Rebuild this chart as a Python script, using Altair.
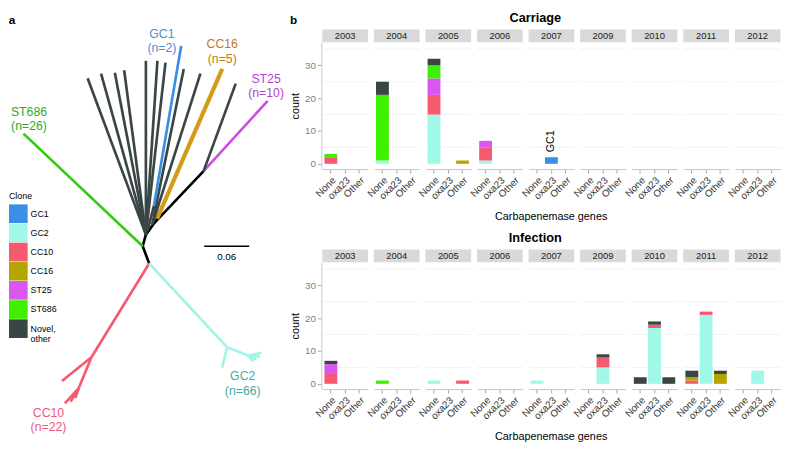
import altair as alt
import pandas as pd

# ---------------- data ----------------
clones = ["GC1", "GC2", "CC10", "CC16", "ST25", "ST686", "Novel, other"]
clone_colors = ["#3a8ee6", "#a0f8e8", "#f55a70", "#b5a300", "#d957f0", "#3ef000", "#3a4646"]
years = ["2003", "2004", "2005", "2006", "2007", "2009", "2010", "2011", "2012"]
genes = ["None", "oxa23", "Other"]

carriage_year = ["2003", "2003", "2004", "2004", "2004", "2005", "2005", "2005", "2005", "2005", "2005",
                 "2006", "2006", "2006", "2007"]
carriage_gene = ["None", "None", "None", "None", "None", "None", "None", "None", "None", "None", "Other",
                 "None", "None", "None", "oxa23"]
carriage_clone = ["CC10", "ST686", "GC2", "ST686", "Novel, other", "GC2", "CC10", "ST25", "ST686",
                  "Novel, other", "CC16", "GC2", "CC10", "ST25", "GC1"]
carriage_count = [2, 1, 1, 20, 4, 15, 6, 5, 4, 2, 1, 1, 4, 2, 2]

infection_year = ["2003", "2003", "2003", "2004", "2005", "2005", "2007", "2009", "2009", "2009",
                  "2010", "2010", "2010", "2010", "2010", "2011", "2011", "2011", "2011", "2011",
                  "2011", "2011", "2012"]
infection_gene = ["None", "None", "None", "None", "None", "Other", "None", "oxa23", "oxa23", "oxa23",
                  "None", "oxa23", "oxa23", "oxa23", "Other", "None", "None", "None", "oxa23", "oxa23",
                  "Other", "Other", "oxa23"]
infection_clone = ["CC10", "ST25", "Novel, other", "ST686", "GC2", "CC10", "GC2", "GC2", "CC10",
                   "Novel, other", "Novel, other", "GC2", "CC10", "Novel, other", "Novel, other",
                   "CC10", "CC16", "Novel, other", "GC2", "CC10", "CC16", "Novel, other", "GC2"]
infection_count = [3, 3, 1, 1, 1, 1, 1, 5, 3, 1, 2, 17, 1, 1, 2, 1, 1, 2, 21, 1, 3, 1, 4]

carriage_note = {("2007", "oxa23", "GC1"): "GC1"}

# tree segments (x1, y1, x2, y2, group) in figure units
tree_x1 = [140, 140, 143.3, 151.7, 151.7, 155, 140, 203.3, 203.3,
           143.3, 143.3, 143.3, 143.3, 143.3, 143.3, 143.3, 150, 150, 145, 151.7,
           146.7, 86.7, 86.7, 73.3, 73.3, 73.3,
           146.7, 227.7, 227.7, 250, 250, 250, 250]
tree_y1 = [248.3, 248.3, 236, 224, 224, 219, 248.3, 168.3, 168.3,
           236, 236, 236, 236, 236, 236, 236, 225, 225, 232, 205,
           266.7, 366.7, 366.7, 400, 400, 400,
           266.7, 356, 356, 365, 365, 365, 365]
tree_x2 = [143.3, 146.7, 151.7, 203.3, 155, 222.7, 16, 270, 236.7,
           82.7, 96.7, 111, 120.7, 143.3, 155.3, 163.7, 182.7, 200, 151.7, 180,
           86.7, 56, 73.3, 59, 70, 65,
           227.7, 222.7, 250, 263.3, 258, 255, 262]
tree_y2 = [236, 266.7, 224, 168.3, 219, 59.3, 128.3, 93.3, 75,
           69.3, 64.3, 63.3, 60.7, 50.7, 50.7, 52.7, 59.3, 64.3, 205, 35,
           366.7, 392, 400, 416, 410, 414,
           356, 377.7, 365, 362, 369, 371, 366]
tree_group = ["stem", "stem", "stem", "stem", "stem", "CC16", "ST686", "ST25", "Novel",
              "Novel", "Novel", "Novel", "Novel", "Novel", "Novel", "Novel", "Novel", "Novel", "Novel", "GC1",
              "CC10", "CC10", "CC10", "CC10", "CC10", "CC10",
              "GC2", "GC2", "GC2", "GC2", "GC2", "GC2", "GC2"]
tree_groups = ["GC1", "GC2", "CC10", "CC16", "ST25", "ST686", "Novel", "stem"]
tree_colors = ["#3a8ee6", "#a0f5e6", "#f55a70", "#d39b16", "#cc4ee0", "#33cc11", "#3a4646", "#000000"]

label_text = ["GC1\n(n=2)", "CC16\n(n=5)", "ST25\n(n=10)", "ST686\n(n=26)", "GC2\n(n=66)", "CC10\n(n=22)"]
label_x = [160, 222.7, 268.3, 21.7, 244, 42]
label_y = [22.7, 34.3, 70.7, 106, 388.3, 427.3]
label_group = ["GC1", "CC16", "ST25", "ST686", "GC2", "CC10"]
label_colors = ["#4a8fd8", "#4aaaa0", "#f0587a", "#c07a20", "#b83fd0", "#2ea82e"]
label_groups = ["GC1", "GC2", "CC10", "CC16", "ST25", "ST686"]

scalebar_x = [204, 250.7]
scalebar_y = [248.3, 248.3]
scalebar_label = "0.06"

FONT = "Liberation Sans"

# ---------------- tree (panel a) ----------------
tree_df = pd.DataFrame({"x1": tree_x1, "y1": tree_y1, "x2": tree_x2, "y2": tree_y2, "g": tree_group})
tree_df["w"] = [4.2 if g == "CC16" else 2.7 for g in tree_group]
lab_df = pd.DataFrame({"x": label_x, "y": label_y, "t": label_text, "g": label_group})
sb_df = pd.DataFrame({"x1": [scalebar_x[0]], "x2": [scalebar_x[1]], "y": [scalebar_y[0]],
                      "xm": [(scalebar_x[0] + scalebar_x[1]) / 2], "t": [scalebar_label]})
letters_df = pd.DataFrame({"x": [4, 297], "y": [7, 7], "t": ["a", "b"]})
legend_df = pd.DataFrame({"clone": clones})

TREE_W = 280
KY = 0.955
Y0 = 31
TREE_H = 395
xs = alt.Scale(domain=[4, 290], nice=False, zero=False)
ys = alt.Scale(domain=[Y0, Y0 + TREE_H / KY], nice=False, zero=False, reverse=True)

segs = alt.Chart(tree_df).mark_rule(strokeCap="butt").encode(
    x=alt.X("x1:Q", scale=xs, axis=None), y=alt.Y("y1:Q", scale=ys, axis=None),
    x2="x2:Q", y2="y2:Q",
    color=alt.Color("g:N", scale=alt.Scale(domain=tree_groups, range=tree_colors), legend=None),
    strokeWidth=alt.StrokeWidth("w:Q", scale=None, legend=None),
)
labs = alt.Chart(lab_df).mark_text(fontSize=12.5, font=FONT, lineBreak="\n", lineHeight=14.5,
                                   baseline="top", dy=-7).encode(
    x=alt.X("x:Q", scale=xs, axis=None), y=alt.Y("y:Q", scale=ys, axis=None), text="t:N",
    color=alt.Color("g:N", scale=alt.Scale(domain=label_groups, range=label_colors), legend=None),
)
sb = alt.Chart(sb_df).mark_rule(color="black", strokeWidth=1.5).encode(
    x=alt.X("x1:Q", scale=xs, axis=None), x2="x2:Q", y=alt.Y("y:Q", scale=ys, axis=None))
sbt = alt.Chart(sb_df).mark_text(fontSize=10, font=FONT, baseline="top", dy=6).encode(
    x=alt.X("xm:Q", scale=xs, axis=None), y=alt.Y("y:Q", scale=ys, axis=None), text="t:N")
letters = alt.Chart(letters_df).mark_text(fontSize=12, font=FONT, fontWeight="bold").encode(
    x=alt.X("x:Q", scale=xs, axis=None), y=alt.Y("y:Q", scale=ys, axis=None), text="t:N")
legend_layer = alt.Chart(legend_df).mark_square(opacity=0).encode(
    x=alt.value(0), y=alt.value(200),
    color=alt.Color("clone:N", scale=alt.Scale(domain=clones, range=clone_colors),
                    legend=alt.Legend(orient="none", legendX=-3, legendY=153, title="Clone",
                                      titleFontSize=9, titleFontWeight="normal", titleColor="black",
                                      labelFontSize=9, labelColor="black", symbolType="square",
                                      symbolSize=361, symbolStrokeWidth=0, symbolOpacity=1,
                                      rowPadding=0.5, labelOffset=3, titlePadding=3, padding=0,
                                      labelExpr="datum.label == 'Novel, other' ? ['Novel,', 'other'] : datum.label")),
)

tree = alt.layer(segs, labs, sb, sbt, letters, legend_layer).resolve_scale(color="independent").properties(
    width=TREE_W, height=TREE_H)

# ---------------- bars (panel b) ----------------
W = 46.5
H = 129


def build_df(yr, gn, cl, ct, notes):
    rows = []
    lookup = {(a, b, c): d for a, b, c, d in zip(yr, gn, cl, ct)}
    for y in years:
        for g in genes:
            for i, c in enumerate(clones):
                rows.append({"year": y, "gene": g, "clone": c, "ord": i,
                             "count": lookup.get((y, g, c), 0),
                             "note": notes.get((y, g, c), "")})
    return pd.DataFrame(rows)


yscale = alt.Scale(domain=[-1.6, 37], nice=False, zero=False)
yaxis = alt.Axis(values=[0, 10, 20, 30], grid=False, title="count", titleFontSize=11,
                 titleFontWeight="normal", titleColor="black", labelColor="#808080", labelFontSize=10,
                 tickColor="#a8a8a8", domainColor="#c8c8c8", tickSize=4, titlePadding=4)
xscale = alt.Scale(domain=genes, paddingInner=0.1, paddingOuter=0.15)


def panel(df, title):
    base = alt.Chart()
    grid = base.transform_aggregate(n="count()", groupby=["year"]).transform_calculate(
        g="[5, 15, 25, 35]").transform_flatten(["g"]).mark_rule(color="#eeeeee", strokeWidth=0.8).encode(
        y=alt.Y("g:Q", scale=yscale, axis=yaxis))
    strip = base.transform_aggregate(n="count()", groupby=["year"]).mark_rect(color="#d7dad9").encode(
        x=alt.value(0), x2=alt.value(W), y=alt.value(-13), y2=alt.value(0))
    strip_t = base.transform_aggregate(n="count()", groupby=["year"]).mark_text(
        fontSize=9.5, font=FONT, color="#1a1a1a").encode(
        text="year:N", x=alt.value(W / 2), y=alt.value(-6.5))
    bars = base.transform_filter("datum.count > 0").mark_bar().encode(
        x=alt.X("gene:N", scale=xscale,
                axis=alt.Axis(labelAngle=315, labelFontSize=10, labelColor="#333333", tickColor="#a8a8a8",
                              domainColor="#c8c8c8", tickSize=4), title=None),
        y=alt.Y("count:Q", stack="zero", scale=yscale, axis=yaxis),
        color=alt.Color("clone:N", scale=alt.Scale(domain=clones, range=clone_colors), legend=None),
        order=alt.Order("ord:Q"),
    )
    note = base.transform_filter("datum.note != ''").mark_text(
        angle=270, align="left", baseline="middle", dx=5, fontSize=11, font=FONT).encode(
        x=alt.X("gene:N", scale=xscale, title=None),
        y=alt.Y("count:Q", stack=None, scale=yscale, axis=yaxis), text="note:N")
    lay = alt.layer(grid, strip, strip_t, bars, note, data=df).properties(width=W, height=H)
    return lay.facet(
        column=alt.Column("year:N", sort=years,
                          header=alt.Header(labels=False, title="Carbapenemase genes", titleOrient="bottom",
                                            titleFontSize=11, titleFontWeight="normal", titleColor="black",
                                            titleFont=FONT, titlePadding=0)),
        spacing=4.5,
    ).properties(title=alt.Title(title, fontSize=13, fontWeight="bold", anchor="middle", font=FONT, offset=5))


carriage = panel(build_df(carriage_year, carriage_gene, carriage_clone, carriage_count, carriage_note),
                 "Carriage")
infection = panel(build_df(infection_year, infection_gene, infection_clone, infection_count, {}),
                  "Infection")

right = alt.vconcat(carriage, infection, spacing=10)
chart = alt.hconcat(tree, right, spacing=36, bounds="flush").resolve_scale(color="independent").properties(
    padding={"left": 0, "top": 0, "right": 0, "bottom": 0}
).configure(font=FONT).configure_view(strokeWidth=0).configure_axis(labelFont=FONT, titleFont=FONT)

chart.save("out.html", embed_options={"renderer": "svg", "actions": False})
